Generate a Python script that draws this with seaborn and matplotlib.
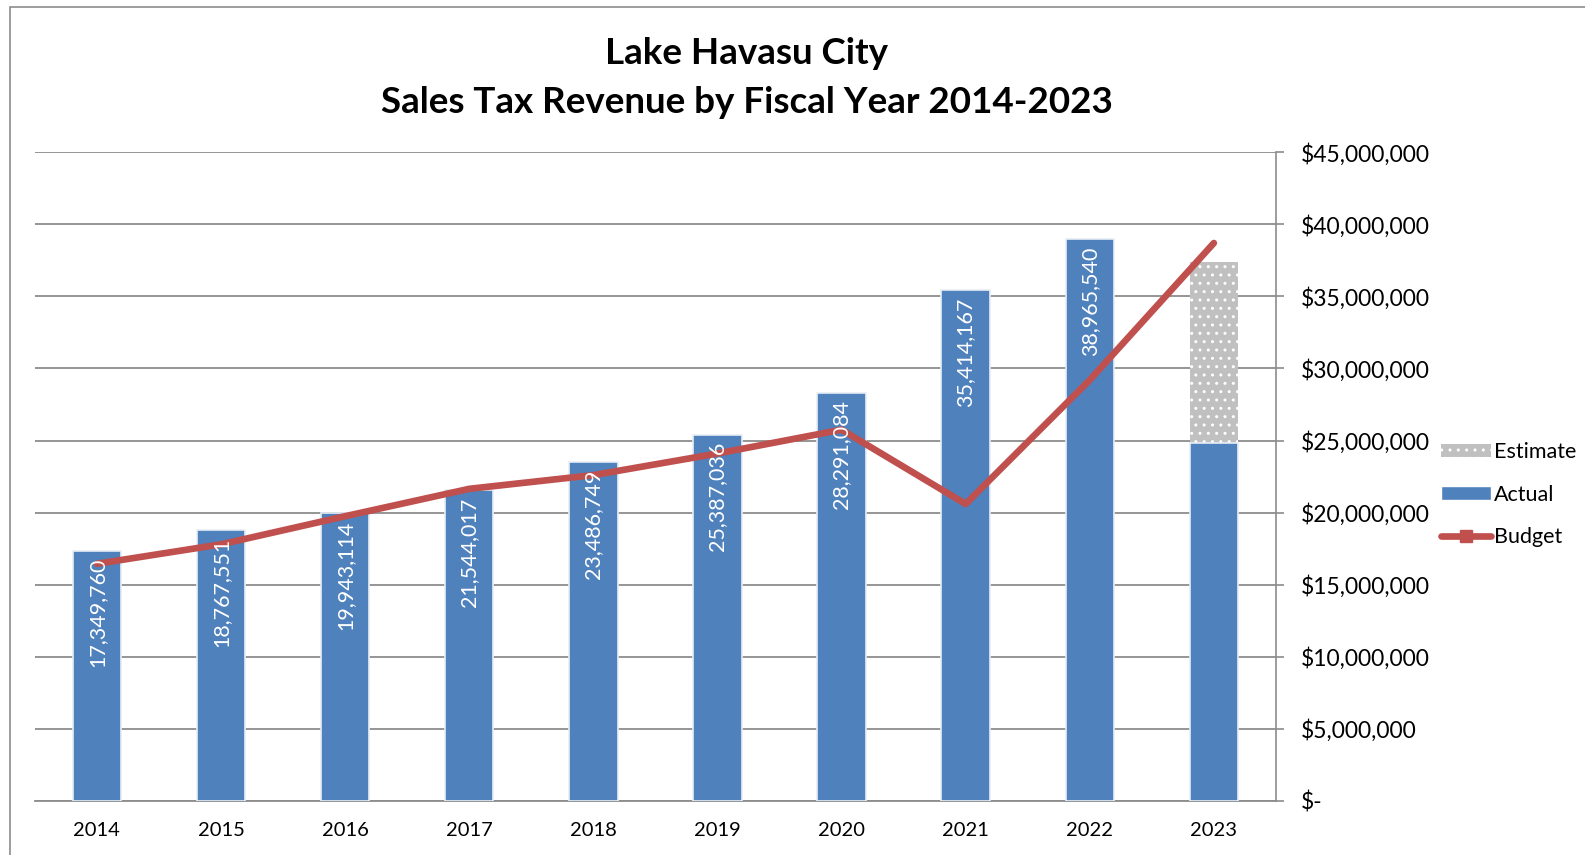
import numpy as np
import pandas as pd
import matplotlib
matplotlib.use('Agg')
import matplotlib.pyplot as plt
import matplotlib.patches as mpatches
from matplotlib.lines import Line2D
import seaborn as sns

# dados
anos = ['2014', '2015', '2016', '2017', '2018', '2019', '2020', '2021', '2022', '2023']
actual = [17349760, 18767551, 19943114, 21544017, 23486749, 25387036, 28291084, 35414167, 38965540, 24800000]
estimate = [0, 0, 0, 0, 0, 0, 0, 0, 0, 12600000]
budget = [16450000, 17800000, 19750000, 21650000, 22600000, 24100000, 25750000, 20600000, 29200000, 38700000]
rotulos = ['17,349,760', '18,767,551', '19,943,114', '21,544,017', '23,486,749',
           '25,387,036', '28,291,084', '35,414,167', '38,965,540', '']
yticks = [0, 5e6, 10e6, 15e6, 20e6, 25e6, 30e6, 35e6, 40e6, 45e6]
ytick_labels = ['$-', '$5,000,000', '$10,000,000', '$15,000,000', '$20,000,000', '$25,000,000',
                '$30,000,000', '$35,000,000', '$40,000,000', '$45,000,000']

df = pd.DataFrame({'ano': anos, 'actual': actual, 'estimate': estimate, 'budget': budget})
df['total'] = df['actual'] + df['estimate']

sns.set_style('white')
plt.rcParams['font.family'] = ['Lato', 'DejaVu Sans']
plt.rcParams['hatch.linewidth'] = 1.0
plt.rcParams['text.color'] = 'black'
plt.rcParams['xtick.color'] = 'black'
plt.rcParams['ytick.color'] = 'black'

azul = '#4F81BD'
vermelho = '#C0504D'
cinza = '#C0C0C0'
cor_grade = '#8C8C8C'

fig = plt.figure(figsize=(15.85, 8.55), dpi=100)
ax = fig.add_axes([0.022, 0.0632, 0.783, 0.7588])

# estimativa (empilhada por cima do actual)
sns.barplot(data=df, x='ano', y='total', color=cinza, width=0.39, ax=ax,
            edgecolor='white', linewidth=0, hatch='..', saturation=1, zorder=2)
sns.barplot(data=df, x='ano', y='actual', color=azul, width=0.39, ax=ax,
            edgecolor='#E8EEF5', linewidth=1.2, saturation=1, zorder=3)
sns.lineplot(x=np.arange(len(anos)), y=df['budget'], color=vermelho, linewidth=4.8,
             ax=ax, zorder=4, solid_capstyle='round')

for i, txt in enumerate(rotulos):
    if txt:
        ax.annotate(txt, (i, actual[i]), xytext=(0, -5), textcoords='offset points',
                    rotation=90, ha='center', va='top', color='white', fontsize=15.5, zorder=5)

ax.set_xlim(-0.5, 9.5)
ax.set_ylim(0, 45e6)
ax.set_yticks(yticks)
ax.set_yticklabels(ytick_labels)
ax.yaxis.tick_right()
ax.tick_params(axis='y', which='both', right=True, left=False, length=6, width=1.2,
               color=cor_grade, labelsize=16.5, pad=12, labelcolor='black')
ax.tick_params(axis='x', bottom=False, labelsize=14.5, pad=12, labelcolor='black')
ax.set_xlabel('')
ax.set_ylabel('')
ax.grid(axis='y', color=cor_grade, linewidth=1.3, zorder=0)
ax.set_axisbelow(True)
for s in ['top', 'left']:
    ax.spines[s].set_visible(False)
ax.spines['right'].set_color(cor_grade)
ax.spines['right'].set_linewidth(1.2)
ax.spines['bottom'].set_color(cor_grade)
ax.spines['bottom'].set_linewidth(1.3)

# legenda
h_est = mpatches.Patch(facecolor=cinza, edgecolor='white', hatch='..', linewidth=0)
h_act = mpatches.Patch(facecolor=azul)
h_bud = Line2D([], [], color=vermelho, linewidth=4.8, marker='s', markersize=9,
               solid_capstyle='round')
fig.legend([h_est, h_act, h_bud], ['Estimate', 'Actual', 'Budget'],
           loc='upper left', bbox_to_anchor=(0.904, 0.493), frameon=False,
           fontsize=15.5, labelspacing=1.05, handlelength=2.3, handleheight=0.6,
           handletextpad=0.15, borderaxespad=0)

fig.text(0.471, 0.938, 'Lake Havasu City', ha='center', va='center',
         fontsize=26.5, fontweight='bold')
fig.text(0.471, 0.880, 'Sales Tax Revenue by Fiscal Year 2014-2023', ha='center',
         va='center', fontsize=26.5, fontweight='bold')

# borda do gráfico
borda = mpatches.Rectangle((0.0063, -0.1), 1.2, 1.0918, transform=fig.transFigure,
                           fill=False, edgecolor='#8C8C8C', linewidth=1.2)
fig.patches.append(borda)

plt.savefig('out.png', dpi=100)
